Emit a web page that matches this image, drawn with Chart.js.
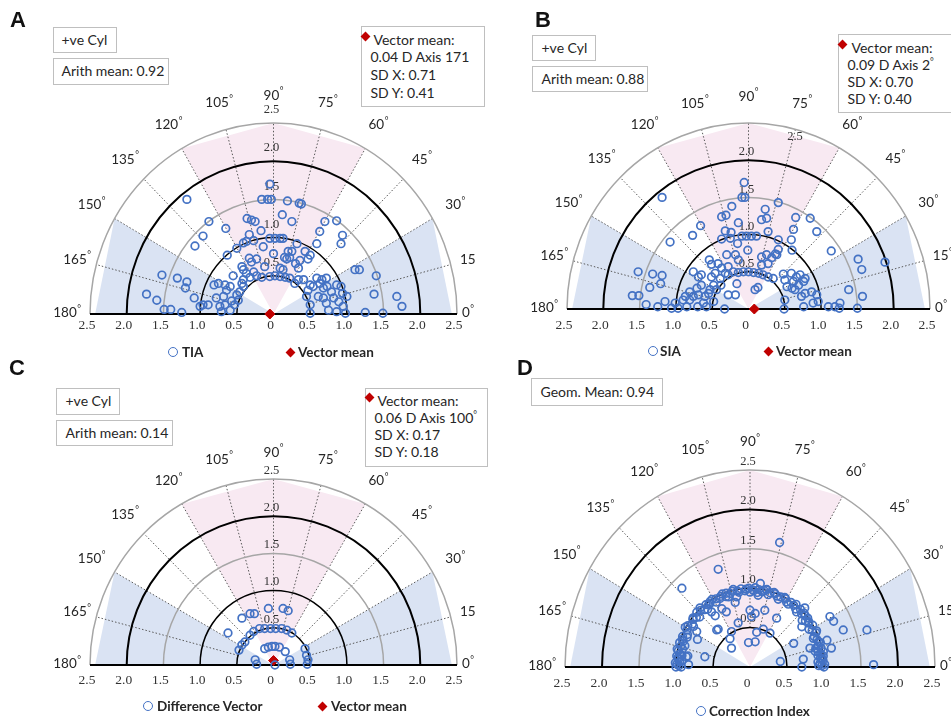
<!DOCTYPE html>
<html>
<head>
<meta charset="utf-8">
<script src="https://cdn.jsdelivr.net/npm/chart.js@4.4.1/dist/chart.umd.min.js"></script>
<style>
body { margin: 0; background: #fff; width: 951px; height: 716px; position: relative; overflow: hidden; font-family: Lato, "Open Sans", sans-serif; color: #262626; }
canvas { position: absolute; }
.letter { position: absolute; font: bold 22px "Liberation Sans", Arial, sans-serif; line-height: 22px; color: #111; }
.box { position: absolute; box-sizing: border-box; border: 1.5px solid #bfbfbf; background: #fff; font-size: 14px; white-space: nowrap; overflow: visible; }
.dia { position: absolute; width: 7px; height: 7px; background: #c00000; transform: rotate(45deg); }
.circ { position: absolute; box-sizing: border-box; width: 10px; height: 10px; border: 1.8px solid #4472c4; border-radius: 50%; }
.leg { position: absolute; font-weight: bold; font-size: 13.5px; line-height: 16px; color: #262626; white-space: nowrap; }
sup { font-size: 9px; vertical-align: 5px; line-height: 0; }
</style>
</head>
<body>
<canvas id="cA" width="475" height="360" style="left:0;top:0"></canvas>
<canvas id="cB" width="476" height="360" style="left:475px;top:0"></canvas>
<canvas id="cC" width="475" height="361" style="left:0;top:355px"></canvas>
<canvas id="cD" width="476" height="361" style="left:475px;top:355px"></canvas>

<div class="letter" style="left:10px;top:9px">A</div>
<div class="letter" style="left:535px;top:9px">B</div>
<div class="letter" style="left:9px;top:357px">C</div>
<div class="letter" style="left:517px;top:357px">D</div>

<!-- panel A boxes -->
<div class="box" style="left:53px;top:27px;width:64px;height:26px;padding-left:7.5px;line-height:23px">+ve Cyl</div>
<div class="box" style="left:53px;top:58px;width:116px;height:27px;padding-left:7.5px;line-height:24px">Arith mean: 0.92</div>
<div class="box" style="left:361px;top:26px;width:124px;height:81px;padding:3.5px 0 0 8.5px;line-height:17.7px">
  <span class="dia" style="left:0;top:6px"></span>
  <div style="margin-left:3px">Vector mean:</div>
  <div>0.04 D Axis 171</div>
  <div>SD X: 0.71</div>
  <div>SD Y: 0.41</div>
</div>

<!-- panel B boxes -->
<div class="box" style="left:532px;top:35px;width:64px;height:26px;padding-left:8.5px;line-height:23px">+ve Cyl</div>
<div class="box" style="left:532px;top:66px;width:116px;height:26px;padding-left:8.5px;line-height:23px">Arith mean: 0.88</div>
<div class="box" style="left:838px;top:34px;width:130px;height:79px;padding:4px 0 0 8.5px;line-height:17px">
  <span class="dia" style="left:0;top:6px"></span>
  <div style="margin-left:4px">Vector mean:</div>
  <div>0.09 D Axis 2<sup>°</sup></div>
  <div>SD X: 0.70</div>
  <div>SD Y: 0.40</div>
</div>

<!-- panel C boxes -->
<div class="box" style="left:56px;top:388px;width:64px;height:27px;padding-left:8.5px;line-height:24px">+ve Cyl</div>
<div class="box" style="left:56px;top:420px;width:117px;height:26px;padding-left:8.5px;line-height:23px">Arith mean: 0.14</div>
<div class="box" style="left:365px;top:388px;width:123px;height:79px;padding:3px 0 0 8.5px;line-height:17px">
  <span class="dia" style="left:0;top:5px"></span>
  <div style="margin-left:3px">Vector mean:</div>
  <div>0.06 D Axis 100<sup>°</sup></div>
  <div>SD X: 0.17</div>
  <div>SD Y: 0.18</div>
</div>

<!-- panel D box -->
<div class="box" style="left:531px;top:378px;width:132px;height:28px;padding-left:8.5px;line-height:25px">Geom. Mean: 0.94</div>

<!-- legends -->
<span class="circ" style="left:168px;top:347px"></span><span class="leg" style="left:182px;top:344px">TIA</span>
<span class="dia" style="left:286.5px;top:348.5px"></span><span class="leg" style="left:298px;top:344px">Vector mean</span>
<span class="circ" style="left:648px;top:346px"></span><span class="leg" style="left:660px;top:343px">SIA</span>
<span class="dia" style="left:764.5px;top:347.5px"></span><span class="leg" style="left:776px;top:343px">Vector mean</span>
<span class="circ" style="left:143px;top:701px"></span><span class="leg" style="left:157px;top:698px">Difference Vector</span>
<span class="dia" style="left:318.5px;top:702.5px"></span><span class="leg" style="left:331px;top:698px">Vector mean</span>
<span class="circ" style="left:696px;top:706px"></span><span class="leg" style="left:709px;top:703px">Correction Index</span>

<script>
// tick labels
const xTicks = [-2.5, -2.0, -1.5, -1.0, -0.5, 0, 0.5, 1.0, 1.5, 2.0, 2.5];
const rTicks = [0.5, 1.0, 1.5, 2.0, 2.5];
const angleTicks = [0, 15, 30, 45, 60, 75, 90, 105, 120, 135, 150, 165, 180];

// A: target induced astigmatism, [x, y] in D (double-angle plot)
const tia = [
  [-0.05,1.70],[-0.16,1.50],[-0.08,1.50],[-0.03,1.50],[0.19,1.48],[0.35,1.45],[0.38,1.44],[-1.18,1.50],
  [0.12,1.30],[-0.36,1.25],[-0.30,1.23],[-0.25,1.21],[-0.88,1.21],[0.25,1.21],[0.70,1.21],[0.86,1.22],
  [-0.65,1.12],[-0.17,1.09],[0.63,1.08],[-0.96,1.02],[-0.33,1.04],[0.94,1.03],[-1.07,0.89],[0.59,0.92],
  [0.92,0.92],[-0.05,0.99],[0.02,0.99],[0.09,0.99],[0.13,0.99],[-0.41,0.93],[-0.37,0.95],[-0.27,0.96],
  [-0.14,0.88],[-0.50,0.86],[0.20,0.82],[0.25,0.82],[0.32,0.92],[0.43,0.82],[0.00,0.79],[-0.63,0.77],
  [-0.33,0.73],[-0.23,0.72],[-0.30,0.68],[0.15,0.74],[0.18,0.72],[0.22,0.74],[0.36,0.70],[0.30,0.66],
  [0.47,0.72],[0.50,0.77],[-0.43,0.62],[-0.41,0.58],[-0.12,0.62],[0.09,0.60],[0.13,0.58],[0.34,0.60],
  [-0.37,0.53],[-0.27,0.55],[-0.23,0.50],[-0.16,0.48],[-0.05,0.49],[0.02,0.50],[0.09,0.49],[0.16,0.48],
  [0.22,0.47],[-0.32,0.48],[-0.41,0.45],[0.29,0.40],[0.34,0.45],[-0.55,0.50],[-0.66,0.38],[-0.81,0.38],
  [-0.75,0.40],[0.41,0.45],[0.59,0.47],[0.66,0.45],[0.72,0.47],[0.50,0.38],[0.54,0.36],
  [-1.52,0.51],[-1.31,0.47],[-1.18,0.42],[-1.20,0.34],[-1.73,0.26],[-1.59,0.18],[-1.49,0.06],[-1.40,0.06],
  [-1.25,0.02],[-1.08,0.21],[-1.00,0.10],[-0.96,0.12],[-0.89,0.12],[-0.78,0.21],[-0.68,0.23],[-0.64,0.31],
  [-0.59,0.36],[-0.73,0.10],[-0.66,0.12],[-0.71,0.03],[-0.59,0.05],[-0.50,0.25],[-0.46,0.29],[-0.48,0.18],
  [-0.57,0.17],[-0.53,0.12],[-0.41,0.36],[-0.43,0.40],
  [0.47,0.31],[0.45,0.23],[0.50,0.12],[0.50,0.01],[0.63,0.40],[0.68,0.34],[0.73,0.36],[0.79,0.29],
  [0.86,0.38],[0.92,0.36],[0.94,0.27],[0.61,0.23],[0.68,0.21],[0.72,0.14],[0.82,0.21],[0.89,0.16],
  [0.95,0.10],[0.75,0.05],[0.86,0.03],[0.98,0.01],[1.00,0.23],[1.11,0.58],[1.17,0.58],[1.40,0.50],
  [1.37,0.26],[1.25,0.02],[1.49,0.01],[1.68,0.23],[1.75,0.10]
];
const tiaMean = [[-0.05, 0.0]];

// B: surgically induced astigmatism
const sia = [
  [-0.06,1.70],[-0.09,1.50],[-0.05,1.50],[-0.23,1.38],[0.41,1.43],[-1.19,1.50],[0.23,1.34],
  [-0.37,1.24],[-0.31,1.26],[-0.14,1.16],[0.18,1.20],[0.25,1.22],[0.65,1.23],[0.85,1.22],
  [-0.66,1.12],[-1.08,0.90],[-0.77,0.99],[-0.32,1.05],[-0.24,1.03],[-0.09,0.98],[-0.03,0.98],[0.04,0.98],
  [0.11,0.98],[0.27,1.04],[0.41,0.93],[0.62,1.07],[0.94,1.04],[-0.37,0.94],[-0.25,0.95],[-0.15,0.88],
  [-0.01,0.79],[0.59,0.93],[0.60,0.79],[0.41,0.80],[0.37,0.74],[1.14,0.78],[-0.30,0.73],[-0.18,0.73],
  [-0.14,0.66],[0.18,0.70],[0.25,0.73],[0.32,0.69],[0.39,0.73],[0.18,0.59],[0.27,0.61],[-0.54,0.66],
  [-0.51,0.60],[-0.42,0.61],[-0.37,0.55],[-0.28,0.57],[-0.21,0.50],[-0.14,0.49],[-0.07,0.50],[0.00,0.50],
  [0.07,0.49],[0.14,0.48],[0.20,0.46],[0.27,0.43],[0.34,0.41],[-0.32,0.48],[-0.28,0.46],[-0.76,0.50],
  [-0.69,0.43],[-0.65,0.46],[-0.51,0.43],[-0.46,0.48],[-0.39,0.41],[-0.38,0.32],[-0.48,0.32],[-0.44,0.26],
  [-0.53,0.26],[-0.65,0.32],[-0.71,0.28],[-0.81,0.23],[-0.76,0.17],[-0.69,0.19],[-0.87,0.17],[-0.81,0.12],
  [-0.60,0.17],[-0.55,0.21],[-0.62,0.08],[-0.70,0.03],[-0.58,0.03],[-0.48,0.10],[-1.01,0.08],[-0.90,0.12],
  [-0.85,0.03],[-0.97,0.01],[-1.06,0.01],[-1.15,0.10],[-0.28,0.19],[-0.18,0.19],[-0.33,0.00],[0.09,0.26],
  [0.13,0.29],[-0.16,0.34],[-1.52,0.50],[-1.32,0.47],[-1.19,0.45],[-1.21,0.34],[-1.36,0.29],[-1.60,0.18],
  [-1.51,0.18],[-1.41,0.06],[-1.25,0.03],
  [0.48,0.47],[0.50,0.39],[0.53,0.30],[0.50,0.12],[0.49,0.00],[0.59,0.48],[0.66,0.43],[0.71,0.46],
  [0.78,0.41],[0.62,0.37],[0.69,0.32],[0.76,0.37],[0.60,0.28],[0.64,0.26],[0.73,0.17],[0.78,0.21],
  [0.87,0.23],[0.94,0.19],[0.76,0.03],[0.89,0.08],[0.96,0.10],[1.10,0.03],[1.19,0.03],[1.25,0.01],
  [1.26,0.08],[1.38,0.26],[1.51,0.67],[1.56,0.53],[1.88,0.63],[1.57,0.17],[1.50,0.01]
];
const siaMean = [[0.08, 0.0]];

// C: difference vector
const dv = [
  [-0.07,0.76],[-0.32,0.69],[-0.26,0.69],[-0.43,0.63],[0.13,0.76],[0.20,0.73],[-0.62,0.43],
  [-0.19,0.49],[-0.12,0.49],[-0.04,0.49],[0.03,0.49],[0.11,0.49],[0.18,0.47],[0.25,0.43],
  [-0.27,0.45],[-0.32,0.40],[-0.39,0.31],[-0.43,0.27],[-0.47,0.20],
  [-0.12,0.22],[-0.07,0.24],[-0.02,0.25],[0.02,0.25],[0.08,0.24],[0.16,0.18],
  [0.43,0.22],[0.45,0.13],[0.47,0.07],[0.46,0.01],[-0.25,0.07],[-0.23,0.01],[0.02,0.00],[0.22,0.07],[0.23,0.01]
];
const dvMean = [[0.0, 0.06]];

// D: correction index, the dense band near 1.0 as [magnitude, plotted angle in deg]
const ciRing = [
  [1.00,0],[0.97,1],[1.01,2],[0.95,3],[0.99,5],[0.96,7],[1.00,8],[0.97,10],[0.94,12],[0.99,14],
  [0.96,16],[1.00,18],[0.97,21],[0.95,24],[0.99,26],[0.96,29],[1.00,32],[0.97,35],[0.95,38],[0.99,41],
  [0.97,44],[1.00,47],[0.96,50],[0.98,53],[0.99,56],[0.96,59],[1.00,62],[0.98,65],[0.97,68],[1.00,71],
  [0.98,74],[1.01,77],[0.97,80],[0.99,83],[1.01,86],[0.98,88],[1.00,91],[0.97,94],[1.00,97],[0.98,100],
  [1.01,103],[0.97,106],[0.99,109],[1.00,112],[0.96,115],[0.98,118],[1.00,121],[0.97,124],[0.99,127],
  [0.95,130],[0.98,133],[1.00,136],[0.96,139],[0.98,142],[0.95,145],[0.99,148],[0.97,151],[0.94,154],
  [0.99,157],[0.96,160],[1.00,162],[0.97,164],[0.94,166],[0.99,168],[0.96,170],[1.00,172],[0.97,174],
  [0.95,176],[0.99,178],[0.96,179],[1.00,180],
  [0.93,1],[0.92,4],[0.98,6],[0.93,9],[1.01,11],[0.92,15],[0.98,19],[0.93,23],[1.01,27],[0.93,31],
  [0.98,36],[0.92,40],[1.00,43],[0.94,48],[1.01,52],[0.95,57],[0.99,61],[0.94,66],[0.99,70],[0.95,75],
  [0.99,79],[0.95,84],[0.97,87],[0.95,90],[0.99,93],[0.96,99],[0.99,104],[0.95,110],[0.98,114],[0.94,119],
  [0.99,123],[0.93,128],[1.01,132],[0.93,137],[0.99,141],[0.92,146],[1.01,150],[0.93,156],[0.98,159],
  [0.92,163],[1.01,167],[0.93,171],[0.98,173],[0.92,175],[1.01,177],[0.93,180]
];
const ciOther = [
  [0.40,1.58],[-0.43,1.24],[-0.92,1.00],[-0.29,0.89],[-0.20,0.82],[-0.18,0.89],[-0.56,0.79],[-0.52,0.70],
  [-0.47,0.65],[-0.38,0.74],[-0.32,0.70],[-0.45,0.47],[-0.72,0.45],[-0.71,0.35],[-0.25,0.45],[-0.27,0.36],
  [-0.25,0.24],[-0.61,0.13],[-0.16,0.56],[0.00,0.72],[0.07,0.68],[0.02,0.64],[0.20,0.72],[0.36,0.62],
  [0.09,0.44],[0.18,0.48],[-0.02,0.31],[0.07,0.32],[0.27,0.43],[0.14,1.06],[0.22,0.98],[0.11,0.91],
  [0.41,0.07],[0.59,0.30],[0.70,0.51],[0.81,0.24],[1.04,0.34],[1.10,0.24],[0.70,0.00],[0.78,0.62],
  [0.74,0.75],[1.08,0.64],[1.13,0.58],[1.26,0.47],[1.58,0.47],[1.67,0.03],[-0.86,0.13],[-0.83,0.03],
  [0.88,0.20],[0.72,0.10],[-0.84,0.14],[-0.43,0.48]
];

const rad = Math.PI / 180;

// number plus a small raised degree sign, anchored like textAlign
function degLabel(ctx, txt, x, y, align) {
  const big = '13.5px Lato, "Open Sans", sans-serif', small = '9px Lato, "Open Sans", sans-serif';
  ctx.font = big;
  const w1 = ctx.measureText(txt).width;
  ctx.font = small;
  const w2 = ctx.measureText('°').width;
  const w = w1 + w2 + 0.5;
  let x0 = align === 'left' ? x : align === 'right' ? x - w : x - w / 2;
  ctx.textAlign = 'left';
  ctx.textBaseline = 'middle';
  ctx.font = big;
  ctx.fillText(txt, x0, y);
  ctx.font = small;
  ctx.fillText('°', x0 + w1 + 0.5, y - 4);
}

const polarGrid = {
  id: 'polarGrid',
  beforeDatasetsDraw(chart, args, o) {
    const ctx = chart.ctx, sx = chart.scales.x, sy = chart.scales.y;
    const X = (r, a) => sx.getPixelForValue(r * Math.cos(a * rad));
    const Y = (r, a) => sy.getPixelForValue(r * Math.sin(a * rad));
    const cx = sx.getPixelForValue(0), cy = sy.getPixelForValue(0);
    ctx.save();

    // shaded zones
    const zone = (pts, color) => {
      ctx.beginPath();
      ctx.moveTo(cx, cy);
      pts.forEach(([r, a]) => ctx.lineTo(X(r, a), Y(r, a)));
      ctx.closePath();
      ctx.fillStyle = color;
      ctx.fill();
    };
    zone([[2.43, 0], [2.5, 30]], '#dae3f3');
    zone([[2.43, 180], [2.5, 150]], '#dae3f3');
    zone([[2.5, 60], [2.5, 90], [2.5, 120]], '#f8e9f2');

    // dotted spokes
    ctx.setLineDash([1.5, 2]);
    ctx.strokeStyle = '#595959';
    ctx.lineWidth = 1;
    for (let a = 15; a < 180; a += 15) {
      ctx.beginPath();
      ctx.moveTo(X(0.5, a), Y(0.5, a));
      ctx.lineTo(X(2.5, a), Y(2.5, a));
      ctx.stroke();
    }
    ctx.setLineDash([]);

    // rings
    const ringLook = { 0.5: ['#000', 1.5], 1: ['#000', 1.5], 1.5: ['#a6a6a6', 1.5], 2: ['#000', 2], 2.5: ['#a6a6a6', 1.5] };
    rTicks.forEach(r => {
      const [c, w] = ringLook[r];
      ctx.beginPath();
      ctx.ellipse(cx, cy, X(r, 0) - cx, cy - Y(r, 90), 0, Math.PI, 2 * Math.PI);
      ctx.strokeStyle = c;
      ctx.lineWidth = w;
      ctx.stroke();
    });

    // baseline
    ctx.beginPath();
    ctx.moveTo(X(2.5, 180), cy);
    ctx.lineTo(X(2.5, 0), cy);
    ctx.strokeStyle = '#000';
    ctx.lineWidth = 2;
    ctx.stroke();

    // radial value labels on the vertical
    ctx.font = '12.5px "Liberation Serif", "DejaVu Serif", serif';
    ctx.fillStyle = '#333';
    ctx.textAlign = 'center';
    ctx.textBaseline = 'middle';
    rTicks.forEach(r => {
      if (r === 2.5 && o.outerLabel) {
        ctx.fillText(r.toFixed(1), sx.getPixelForValue(o.outerLabel[0]), sy.getPixelForValue(o.outerLabel[1]));
      } else {
        ctx.fillText(r.toFixed(1), cx - 2, Y(r, 90) - o.rGap);
      }
    });

    // axis labels under the baseline
    ctx.font = '13.5px "Liberation Serif", "DejaVu Serif", serif';
    xTicks.forEach(v => {
      ctx.fillText(v === 0 ? '0' : Math.abs(v).toFixed(1), sx.getPixelForValue(v) - 3, cy + o.xGap);
    });

    // angle labels
    ctx.fillStyle = '#262626';
    angleTicks.forEach(a => {
      const t = String(a);
      if (a === 0) {
        degLabel(ctx, t, X(2.5, 0) + 5, cy - 1, 'left');
      } else if (a === 180) {
        degLabel(ctx, t, X(2.5, 180) - 9, cy - 1, 'right');
      } else {
        const r = (a === 15 || a === 165) ? 2.77 : 2.86;
        degLabel(ctx, t, X(r, a), Y(r, a), 'center');
      }
    });
    ctx.restore();
  }
};

function pts(arr) { return arr.map(p => ({ x: p[0], y: p[1] })); }
function polarPts(arr) {
  return arr.map(p => ({ x: p[0] * Math.cos(p[1] * rad), y: p[0] * Math.sin(p[1] * rad) }));
}

function openSet(data) {
  return { data, pointStyle: 'circle', pointRadius: 3.8, pointHoverRadius: 3.8, borderWidth: 1.7,
           borderColor: '#4472c4', backgroundColor: 'rgba(0,0,0,0)', clip: false };
}
function meanSet(data) {
  return { data, pointStyle: 'rectRot', pointRadius: 5, pointHoverRadius: 5, borderWidth: 1,
           borderColor: '#c00000', backgroundColor: '#c00000', clip: false };
}

function panel(id, datasets, padding, gridOpts) {
  return new Chart(document.getElementById(id), {
    type: 'scatter',
    data: { datasets },
    options: {
      responsive: false,
      animation: false,
      devicePixelRatio: 1,
      layout: { padding },
      scales: {
        x: { type: 'linear', min: -2.5, max: 2.5, display: false },
        y: { type: 'linear', min: 0, max: 2.5, display: false }
      },
      plugins: { legend: { display: false }, tooltip: { enabled: false }, polarGrid: gridOpts }
    },
    plugins: [polarGrid]
  });
}

panel('cA', [openSet(pts(tia)), meanSet(pts(tiaMean))],
      { left: 90, right: 18, top: 123, bottom: 46 }, { rGap: 13, xGap: 11 });
panel('cB', [openSet(pts(sia)), meanSet(pts(siaMean))],
      { left: 92, right: 21, top: 123, bottom: 51 }, { rGap: 8, xGap: 16, outerLabel: [0.64, 2.31] });
panel('cC', [openSet(pts(dv)), meanSet(pts(dvMean))],
      { left: 90, right: 18, top: 124, bottom: 51 }, { rGap: 8.5, xGap: 15 });
panel('cD', [openSet(polarPts(ciRing).concat(pts(ciOther)))],
      { left: 90, right: 16, top: 115, bottom: 49 }, { rGap: 8.5, xGap: 16 });
</script>
</body>
</html>
